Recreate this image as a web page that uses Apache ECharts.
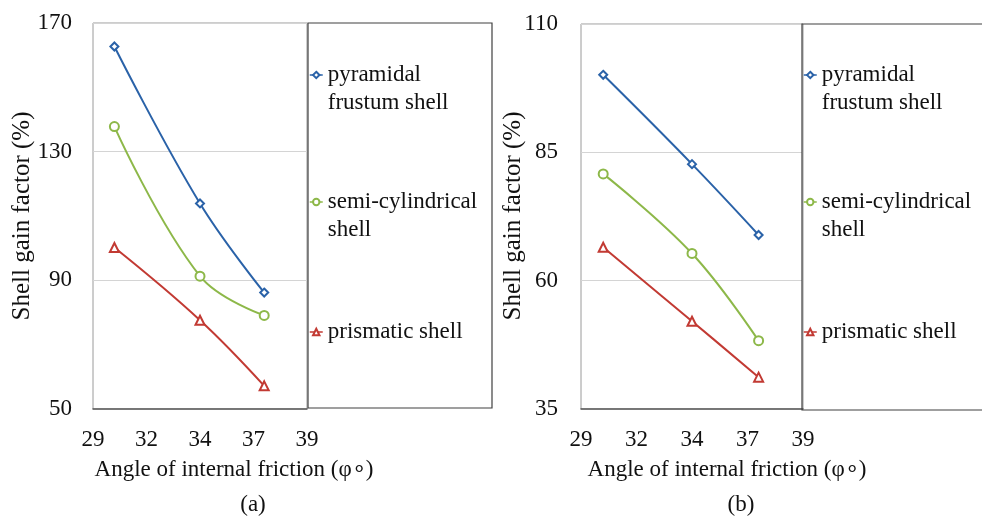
<!DOCTYPE html>
<html>
<head>
<meta charset="utf-8">
<script src="https://cdn.jsdelivr.net/npm/echarts@6/dist/echarts.min.js"></script>
<style>
html,body{margin:0;padding:0;background:#fff;}
#c{width:982px;height:516px;}
</style>
</head>
<body>
<div id="c"></div>
<script>
// ---- data ----
var angles = [30, 34, 37];
var xTickLabels = ['29', '32', '34', '37', '39'];
var yTickLabelsA = ['50', '90', '130', '170'];
var yTickLabelsB = ['35', '60', '85', '110'];
var seriesNames = ['pyramidal frustum shell', 'semi-cylindrical shell', 'prismatic shell'];
var pyramidalA = [162.7, 113.9, 86.2];
var semiCylA = [137.8, 91.3, 79.1];
var prismaticA = [100.2, 77.6, 57.2];
var pyramidalB = [100.1, 82.7, 68.9];
var semiCylB = [80.8, 65.3, 48.3];
var prismaticB = [66.5, 52.1, 41.2];
var panelTitles = ['(a)', '(b)'];
var xName = 'Angle of internal friction (\u03c6\u2218)';
var yName = 'Shell gain factor (%)';

// ---- styles ----
var FONT = 'Liberation Serif';
var colors = ['#2A62A8', '#8DB849', '#C23A33'];
var symbols = ['emptyDiamond', 'emptyCircle', 'emptyTriangle'];
var symSizes = [8, 9, 9];
// legend display text: leading empty line keeps the icon level with the first text line
var legendText = {
  'pyramidal frustum shell': '\npyramidal\nfrustum shell',
  'semi-cylindrical shell': '\nsemi-cylindrical\nshell',
  'prismatic shell': 'prismatic shell'
};

function pairs(xs, ys) { return xs.map(function (x, i) { return [x, ys[i]]; }); }

function mkSeries(idx, grid, vals) {
  return {
    type: 'line', name: seriesNames[idx], xAxisIndex: grid * 2, yAxisIndex: grid * 2,
    data: pairs(angles, vals), smooth: 0.4,
    symbol: symbols[idx], symbolSize: symSizes[idx],
    lineStyle: { color: colors[idx], width: 2 },
    itemStyle: { color: colors[idx], borderWidth: 1.2 },
    z: 3
  };
}

function valueX(grid) {
  return { type: 'value', gridIndex: grid, position: 'bottom', min: 29, max: 39,
    axisLabel: { show: false }, axisTick: { show: false }, splitLine: { show: false },
    axisLine: { show: true, lineStyle: { color: '#595959', width: 1.5 } } };
}
function catX(grid) {
  return { type: 'category', gridIndex: grid, position: 'bottom', data: xTickLabels, boundaryGap: false,
    axisLine: { show: false }, axisTick: { show: false }, splitLine: { show: false },
    axisLabel: { fontFamily: FONT, fontSize: 23, color: '#111', margin: 19 } };
}
function valueY(grid, mn, mx) {
  return { type: 'value', gridIndex: grid, position: 'left', min: mn, max: mx,
    axisLabel: { show: false }, axisTick: { show: false }, splitLine: { show: false },
    axisLine: { show: false } };
}
function catY(grid, labels, margin) {
  return { type: 'category', gridIndex: grid, position: 'left', data: labels, boundaryGap: false,
    axisLine: { show: false }, axisTick: { show: false },
    splitLine: { show: true, lineStyle: { color: '#d4d4d4', width: 1 } },
    axisLabel: { fontFamily: FONT, fontSize: 23, color: '#111', margin: margin } };
}

function mkLegend(name, left, top) {
  return {
    left: left, top: top, orient: 'vertical', padding: 0,
    itemWidth: 13, itemHeight: 8,
    data: [name],
    formatter: function (n) { return legendText[n]; },
    textStyle: { fontFamily: FONT, fontSize: 23, lineHeight: 28, color: '#111' },
    lineStyle: { width: 1.5 },
    selectedMode: false
  };
}

var legendTops = [33, 160, 318];
var legends = [];
[309, 803].forEach(function (lx) {
  seriesNames.forEach(function (n, i) { legends.push(mkLegend(n, lx, legendTops[i])); });
});

function txt(x, y, s, rot, size) {
  return { type: 'text', x: x, y: y, rotation: rot || 0,
    style: { text: s, fontFamily: FONT, fontSize: size || 23, fill: '#111', align: 'center', verticalAlign: 'middle' } };
}

var option = {
  backgroundColor: '#fff',
  animation: false,
  grid: [
    { left: 93, top: 23, width: 214, height: 386, show: true, borderColor: '#9a9a9a', borderWidth: 1 },
    { left: 581, top: 24, width: 222, height: 385, show: true, borderColor: '#9a9a9a', borderWidth: 1 }
  ],
  xAxis: [valueX(0), catX(0), valueX(1), catX(1)],
  yAxis: [valueY(0, 50, 170), catY(0, yTickLabelsA, 21), valueY(1, 35, 110), catY(1, yTickLabelsB, 23)],
  legend: legends,
  series: [
    mkSeries(0, 0, pyramidalA), mkSeries(1, 0, semiCylA), mkSeries(2, 0, prismaticA),
    mkSeries(0, 1, pyramidalB), mkSeries(1, 1, semiCylB), mkSeries(2, 1, prismaticB)
  ],
  graphic: [
    { type: 'rect', shape: { x: 308, y: 23, width: 184, height: 385 }, style: { fill: 'none', stroke: '#404040', lineWidth: 1.2 }, z: 10 },
    { type: 'rect', shape: { x: 802, y: 24, width: 190, height: 386 }, style: { fill: 'none', stroke: '#404040', lineWidth: 1.2 }, z: 10 },
    txt(22, 216, yName, Math.PI / 2, 25),
    txt(513, 216, yName, Math.PI / 2, 25),
    txt(234, 470, xName),
    txt(727, 470, xName),
    txt(253, 505, panelTitles[0]),
    txt(741, 505, panelTitles[1])
  ]
};

var chart = echarts.init(document.getElementById('c'), null, { renderer: 'canvas' });
chart.setOption(option);
</script>
</body>
</html>
